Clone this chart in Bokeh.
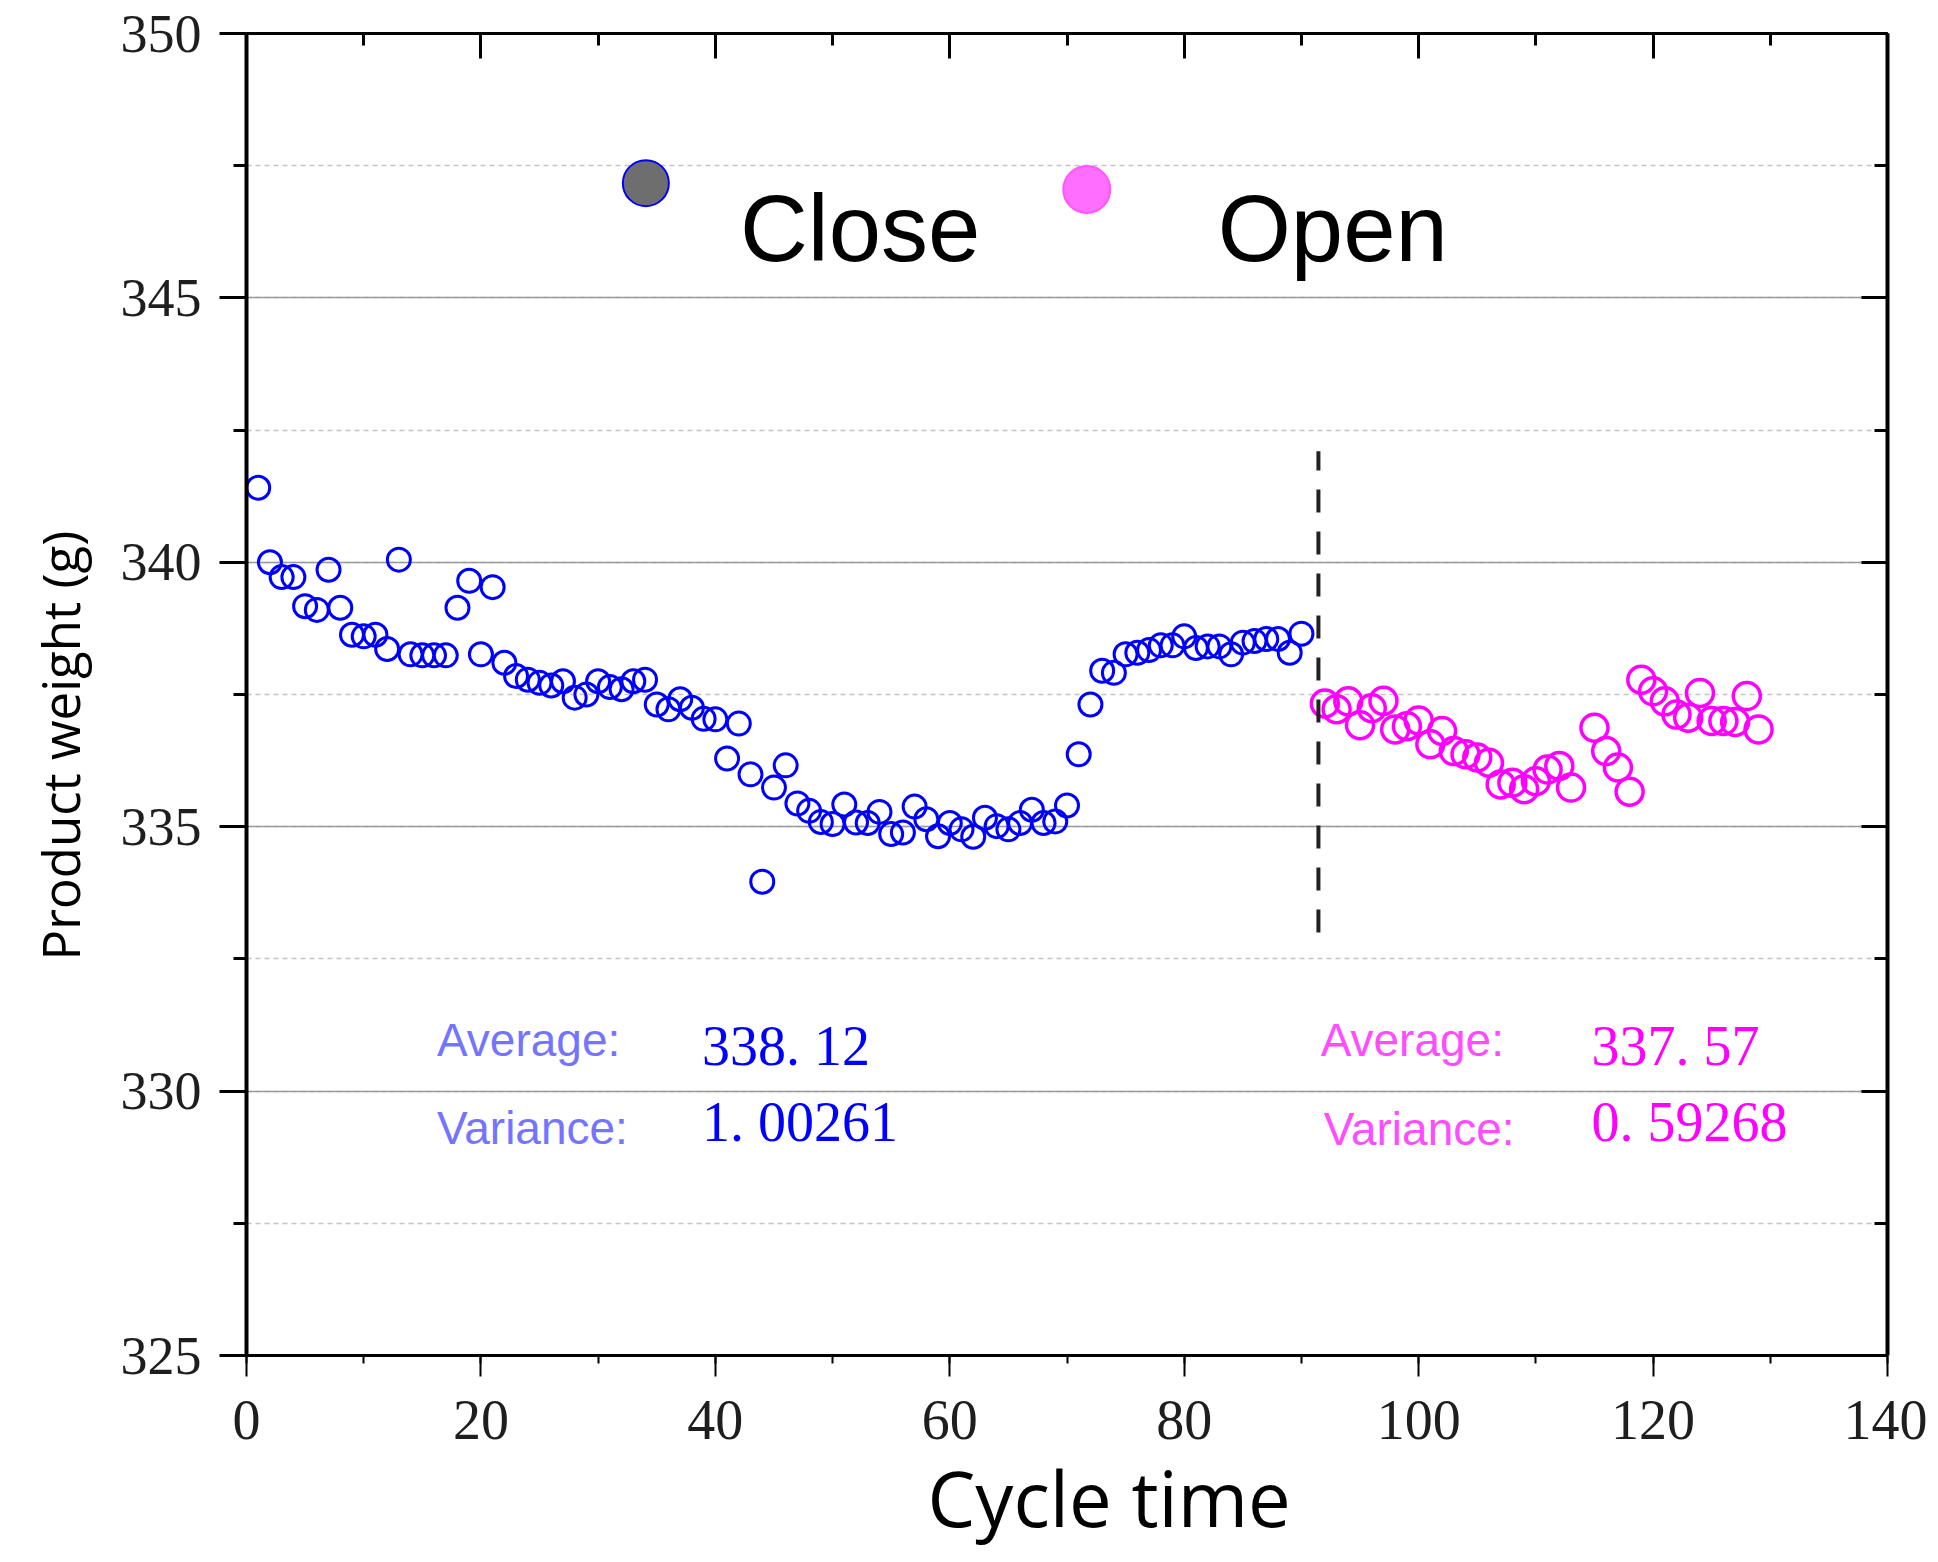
from bokeh.plotting import figure
from bokeh.models import (LinearAxis, SingleIntervalTicker, Label, Title, ColumnDataSource)
from bokeh.embed import file_html
from bokeh.resources import INLINE

# ---------------- data ----------------
close_x = list(range(1, 91))
close_y = [341.41, 340.00, 339.72, 339.72, 339.17, 339.10, 339.86, 339.14, 338.63, 338.60,
           338.63, 338.36, 340.05, 338.26, 338.24, 338.24, 338.24, 339.14, 339.65, 338.26,
           339.53, 338.10, 337.85, 337.78, 337.72, 337.67, 337.75, 337.44, 337.50, 337.75,
           337.64, 337.60, 337.75, 337.78, 337.31, 337.22, 337.41, 337.25, 337.04, 337.03,
           336.29, 336.95, 335.99, 333.96, 335.74, 336.16, 335.44, 335.30, 335.09, 335.05,
           335.42, 335.08, 335.07, 335.28, 334.86, 334.89, 335.38, 335.14, 334.82, 335.07,
           334.95, 334.81, 335.17, 335.01, 334.95, 335.07, 335.32, 335.07, 335.10, 335.40,
           336.37, 337.31, 337.95, 337.91, 338.26, 338.29, 338.34, 338.43, 338.43, 338.60,
           338.38, 338.41, 338.41, 338.26, 338.48, 338.51, 338.55, 338.55, 338.29, 338.65]

open_x = list(range(92, 114)) + list(range(115, 130))
open_y = [337.33, 337.22, 337.37, 336.92, 337.24, 337.38, 336.84, 336.90, 337.01, 336.56,
          336.81, 336.43, 336.37, 336.31, 336.21, 335.80, 335.83, 335.71, 335.86, 336.08,
          336.15, 335.74,
          336.87, 336.43, 336.12, 335.66, 337.78, 337.56, 337.37, 337.12, 337.06, 337.53,
          337.00, 337.00, 336.98, 337.47, 336.84]

split_x = [91.45, 91.45]
split_y = [333.0, 342.1]

series_names = ["Close", "Open"]
stat_labels = ["Average:", "Variance:"]
close_stats = ["338. 12", "1. 00261"]
open_stats = ["337. 57", "0. 59268"]

x_title = "Cycle time"
y_title = "Product weight (g)"

BLUE = "#0000ff"
MAGENTA = "#ff00ff"

p = figure(frame_width=1641, frame_height=1322, x_range=(0, 140), y_range=(325, 350),
           output_backend="svg", toolbar_location=None,
           min_border_left=246, min_border_top=33, min_border_right=40, min_border_bottom=207,
           background_fill_color="white", border_fill_color="white")
p.outline_line_color = None

# grids
p.xgrid.visible = False
p.ygrid.grid_line_color = "#9a9a9a"
p.ygrid.grid_line_width = 1.5
p.ygrid.minor_grid_line_color = "#c4c4c4"
p.ygrid.minor_grid_line_dash = "5 4"
p.ygrid.minor_grid_line_width = 1.5

# left axis
ya = p.yaxis[0]
ya.ticker = SingleIntervalTicker(interval=5, num_minor_ticks=2)
ya.axis_line_width = 4
ya.axis_line_color = "black"
ya.major_tick_out = 27
ya.major_tick_in = 0
ya.minor_tick_out = 13
ya.minor_tick_in = 0
ya.major_tick_line_width = 3
ya.minor_tick_line_width = 3
ya.major_label_text_font = "Liberation Serif"
ya.major_label_text_font_size = "54px"
ya.major_label_text_color = "#1e1e1e"
ya.major_label_standoff = 18

# bottom axis
xa = p.xaxis[0]
xa.ticker = SingleIntervalTicker(interval=20, num_minor_ticks=2)
xa.axis_line_width = 3
xa.axis_line_color = "black"
xa.major_tick_out = 21
xa.major_tick_in = 0
xa.minor_tick_out = 8
xa.minor_tick_in = 0
xa.major_tick_line_width = 2
xa.minor_tick_line_width = 2
xa.major_label_text_font = "Liberation Serif"
xa.major_label_text_font_size = "56px"
xa.major_label_text_color = "#1e1e1e"
xa.major_label_standoff = 24

# top axis (ticks inward, no labels)
top = LinearAxis(ticker=SingleIntervalTicker(interval=20, num_minor_ticks=2),
                 axis_line_width=3, major_tick_in=25, major_tick_out=0,
                 minor_tick_in=12, minor_tick_out=0, major_tick_line_width=3,
                 minor_tick_line_width=3, major_label_text_font_size="0px",
                 major_label_text_color=None, major_label_standoff=0)
p.add_layout(top, "above")

# right axis (ticks inward, no labels)
right = LinearAxis(ticker=SingleIntervalTicker(interval=5, num_minor_ticks=2),
                   axis_line_width=4, major_tick_in=26, major_tick_out=0,
                   minor_tick_in=13, minor_tick_out=0, major_tick_line_width=3,
                   minor_tick_line_width=3, major_label_text_font_size="0px",
                   major_label_text_color=None, major_label_standoff=0)
p.add_layout(right, "right")

# axis titles
p.add_layout(Title(text=x_title, align="left", offset=681, vertical_align="top",
                   text_font="Open Sans", text_font_size="76px", text_font_style="normal",
                   text_color="black", standoff=8), "below")
p.add_layout(Title(text=y_title, align="left", offset=395, text_font="Open Sans",
                   text_font_size="51px", text_font_style="normal", text_color="black",
                   standoff=45), "left")

# data
src_c = ColumnDataSource(dict(x=close_x, y=close_y))
src_o = ColumnDataSource(dict(x=open_x, y=open_y))
p.scatter("x", "y", source=src_c, marker="circle", size=23, fill_color=None,
          line_color=BLUE, line_width=3)
p.scatter("x", "y", source=src_o, marker="circle", size=27, fill_color=None,
          line_color=MAGENTA, line_width=3.5)

# separator
p.line(split_x, split_y, line_color="#222222", line_width=4, line_dash="23 19")

# legend (manual)
p.scatter([34.07], [347.17], marker="circle", size=46, fill_color="#6e6e6e",
          line_color=BLUE, line_width=2)
p.scatter([71.69], [347.05], marker="circle", size=47, fill_color="#ff6eff",
          line_color="#ff55ff", line_width=2)
p.add_layout(Label(x=42.1, y=346.32, text=series_names[0], text_font="Liberation Sans",
                   text_font_size="94px", text_color="black", text_baseline="alphabetic"))
p.add_layout(Label(x=82.86, y=346.32, text=series_names[1], text_font="Liberation Sans",
                   text_font_size="94px", text_color="black", text_baseline="alphabetic"))

# stats
def stat(x, y, t, font, size, color):
    p.add_layout(Label(x=x, y=y, text=t, text_font=font, text_font_size=size,
                       text_color=color, text_baseline="alphabetic"))

stat(16.25, 330.97, stat_labels[0], "Liberation Sans", "46px", "#7474ff")
stat(16.25, 329.31, stat_labels[1], "Liberation Sans", "46px", "#7474ff")
stat(38.85, 330.86, close_stats[0], "Liberation Serif", "56px", BLUE)
stat(38.85, 329.42, close_stats[1], "Liberation Serif", "56px", BLUE)
stat(91.64, 330.97, stat_labels[0], "Liberation Sans", "46px", "#ff4cff")
stat(91.90, 329.29, stat_labels[1], "Liberation Sans", "46px", "#ff4cff")
stat(114.75, 330.86, open_stats[0], "Liberation Serif", "56px", MAGENTA)
stat(114.75, 329.42, open_stats[1], "Liberation Serif", "56px", MAGENTA)

open("out.html", "w").write(file_html(p, INLINE))
